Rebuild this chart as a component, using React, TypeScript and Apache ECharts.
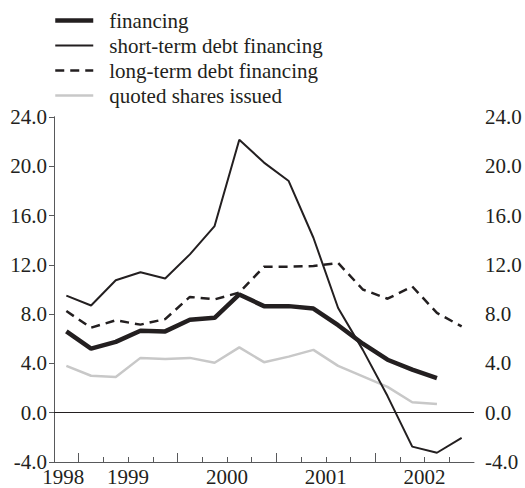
import React, { useEffect, useRef } from "react";
import * as echarts from "echarts";

const seriesNames = [
  "financing",
  "short-term debt financing",
  "long-term debt financing",
  "quoted shares issued",
];

const financing = [6.6, 5.2, 5.75, 6.65, 6.6, 7.55, 7.7, 9.6, 8.65, 8.65, 8.45, 7.1, 5.6, 4.3, 3.5, 2.8];
const shortTerm = [9.5, 8.7, 10.75, 11.4, 10.9, 12.85, 15.15, 22.15, 20.3, 18.8, 14.2, 8.5, 5.1, 1.35, -2.75, -3.25, -2.05];
const longTerm = [8.25, 6.9, 7.5, 7.15, 7.6, 9.4, 9.2, 9.75, 11.85, 11.85, 11.9, 12.15, 10.0, 9.25, 10.25, 8.1, 7.0];
const quoted = [3.8, 3.0, 2.9, 4.45, 4.35, 4.45, 4.05, 5.3, 4.1, 4.55, 5.1, 3.8, 2.95, 2.1, 0.85, 0.7];

// quarter slots on the x axis (17 periods); years labelled at these slot positions
const periodCount = 17;
const yearLabels = ["1998", "1999", "2000", "2001", "2002"];
const yearLabelSlots = [0.37, 3, 7, 11, 15];
const majorTickSlots = [1, 5, 9, 13];
const yTicks = { min: -4, max: 24, interval: 4 };

const FONT = "'Liberation Serif', 'Times New Roman', serif";
const INK = "#231f20";
const AXIS = "#58595b";
const GREY = "#c8c8c8";

const lineStyles = [
  { color: INK, width: 4.5, type: "solid" as any },
  { color: INK, width: 2, type: "solid" as any },
  { color: INK, width: 2.5, type: [9, 6] as any },
  { color: GREY, width: 2.5, type: "solid" as any },
];

const toPoints = (vals: number[]) => vals.map((v, i) => [i + 0.5, v]);

export default function App() {
  const ref = useRef<HTMLDivElement>(null);
  useEffect(() => {
    if (!ref.current) return;
    const chart = echarts.init(ref.current, undefined, { renderer: "svg" });
    const minorTicks: number[] = [];
    for (let i = 1; i < periodCount; i++) minorTicks.push(i);

    const yAxisBase = {
      type: "value",
      min: yTicks.min,
      max: yTicks.max,
      interval: yTicks.interval,
      splitLine: { show: false },
      axisLine: { show: true, lineStyle: { color: AXIS, width: 1 } },
      axisLabel: {
        color: INK,
        fontFamily: FONT,
        fontSize: 21,
        formatter: (v: number) => v.toFixed(1),
      },
    };

    const seriesData = [financing, shortTerm, longTerm, quoted];
    const zOrder = [4, 3, 2, 1];

    chart.setOption({
      animation: false,
      textStyle: { fontFamily: FONT },
      legend: {
        orient: "vertical",
        left: 53,
        top: 10,
        padding: 0,
        itemWidth: 38,
        itemHeight: 21,
        itemGap: 4,
        data: seriesNames.map((n, i) => ({
          name: n,
          lineStyle: { ...lineStyles[i] },
        })),
        itemStyle: { opacity: 0 },
        textStyle: {
          color: INK,
          fontFamily: FONT,
          fontSize: 21,
          lineHeight: 21,
          padding: [0, 0, 0, 11],
        },
      },
      grid: {
        left: 54,
        right: 51,
        top: 117,
        bottom: 26,
        containLabel: false,
        outerBoundsMode: "none",
      },
      xAxis: [
        {
          type: "value",
          min: 0,
          max: periodCount,
          interval: 1,
          position: "bottom",
          splitLine: { show: false },
          axisLine: { show: true, onZero: false, lineStyle: { color: AXIS, width: 1 } },
          axisTick: {
            show: true,
            inside: true,
            length: 5,
            customValues: minorTicks,
            lineStyle: { color: AXIS },
          },
          axisLabel: {
            show: true,
            customValues: yearLabelSlots,
            margin: 4,
            color: INK,
            fontFamily: FONT,
            fontSize: 21,
            lineHeight: 21,
            formatter: (v: number) => {
              const idx = yearLabelSlots.findIndex((s) => Math.abs(s - v) < 1e-6);
              return idx >= 0 ? yearLabels[idx] : "";
            },
          },
        },
        {
          type: "value",
          min: 0,
          max: periodCount,
          interval: 1,
          position: "bottom",
          splitLine: { show: false },
          axisLine: { show: false, onZero: false },
          axisTick: {
            show: true,
            inside: true,
            length: 9,
            customValues: majorTickSlots,
            lineStyle: { color: AXIS },
          },
          axisLabel: { show: false },
        },
      ],
      yAxis: [
        {
          ...yAxisBase,
          position: "left",
          axisTick: { show: true, inside: false, length: 5, lineStyle: { color: AXIS } },
          axisLabel: { ...yAxisBase.axisLabel, margin: 7 },
        },
        {
          ...yAxisBase,
          position: "right",
          axisTick: { show: true, inside: true, length: 5, lineStyle: { color: AXIS } },
          axisLabel: { ...yAxisBase.axisLabel, margin: 11 },
        },
      ],
      series: seriesNames.map((name, i) => ({
        name,
        type: "line",
        data: toPoints(seriesData[i]),
        symbol: "none",
        lineStyle: { ...lineStyles[i] },
        itemStyle: { color: lineStyles[i].color },
        z: zOrder[i],
        ...(i === 3
          ? {
              markLine: {
                silent: true,
                symbol: "none",
                label: { show: false },
                lineStyle: { color: INK, width: 1, type: "solid" },
                data: [{ yAxis: 0 }],
              },
            }
          : {}),
      })),
    });
    return () => chart.dispose();
  }, []);
  return (
    <div
      ref={ref}
      style={{ position: "absolute", left: 0, top: 0, width: 525, height: 488 }}
    />
  );
}
